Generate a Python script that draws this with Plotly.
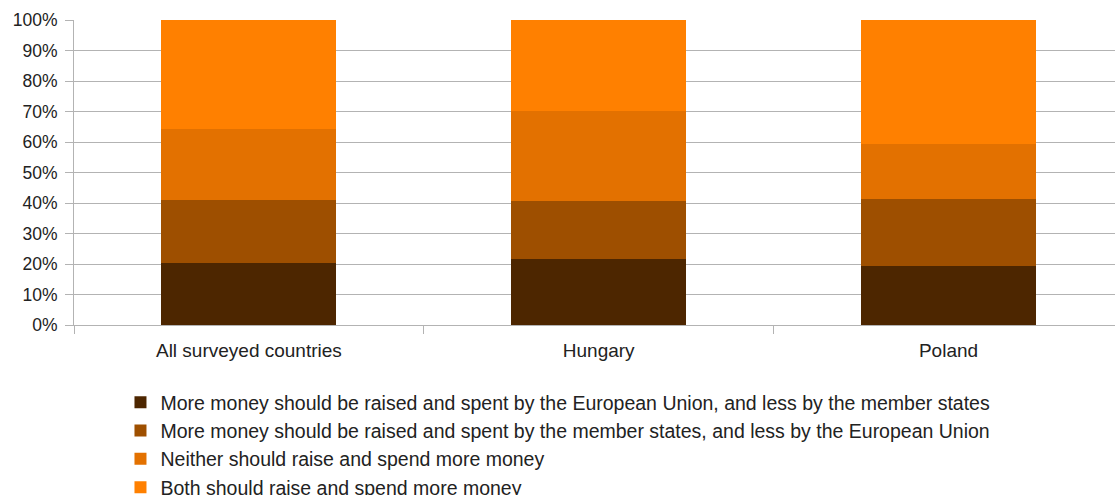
import plotly.graph_objects as go

categories = ["All surveyed countries", "Hungary", "Poland"]

series_names = [
    "More money should be raised and spent by the European Union, and less by the member states",
    "More money should be raised and spent by the member states, and less by the European Union",
    "Neither should raise and spend more money",
    "Both should raise and spend more money",
]

eu_more = [20.2, 21.6, 19.4]
states_more = [20.9, 19.2, 21.9]
neither = [23.3, 29.4, 17.9]
both = [35.6, 29.8, 40.8]

series_values = [eu_more, states_more, neither, both]
colors = ["#4d2600", "#9e4f00", "#e37100", "#ff8000"]

tick_vals = [0, 10, 20, 30, 40, 50, 60, 70, 80, 90, 100]
tick_text = [f"{v}%" for v in tick_vals]

fig = go.Figure()
for name, vals, col in zip(series_names, series_values, colors):
    fig.add_trace(go.Bar(
        x=categories, y=vals, name=name,
        marker=dict(color=col, line=dict(width=0)),
        width=0.5,
    ))

fig.update_layout(
    barmode="stack",
    width=1115, height=495,
    margin=dict(l=73.5, r=0, t=19.5, b=170, autoexpand=False),
    paper_bgcolor="white", plot_bgcolor="white",
    font=dict(family="Liberation Sans, Arial, sans-serif", size=18, color="#222222"),
    showlegend=True,
    legend=dict(
        orientation="v", traceorder="normal",
        x=(120 - 73.5) / 1041.5, xanchor="left", y=-0.19, yanchor="top",
        font=dict(size=19.5, color="#222222"),
        tracegroupgap=0, itemwidth=30,
        bgcolor="rgba(0,0,0,0)",
    ),
)

fig.update_xaxes(
    range=[-0.5, 2.476],
    showline=True, linecolor="#b3b3b3", linewidth=1,
    ticks="outside", ticklen=8, tickcolor="#b3b3b3",
    tickson="boundaries",
    showgrid=False, zeroline=False,
    ticklabelstandoff=8,
    tickfont=dict(size=19, color="#222222"),
)

fig.update_yaxes(
    range=[0, 100],
    tickvals=tick_vals, ticktext=tick_text,
    showline=True, linecolor="#b3b3b3", linewidth=1,
    ticks="outside", ticklen=8, tickcolor="#b3b3b3",
    showgrid=True, gridcolor="#b3b3b3", gridwidth=1,
    zeroline=False,
    ticklabelstandoff=4,
    tickfont=dict(size=17.5, color="#222222"),
)

fig.write_html("out.html")
